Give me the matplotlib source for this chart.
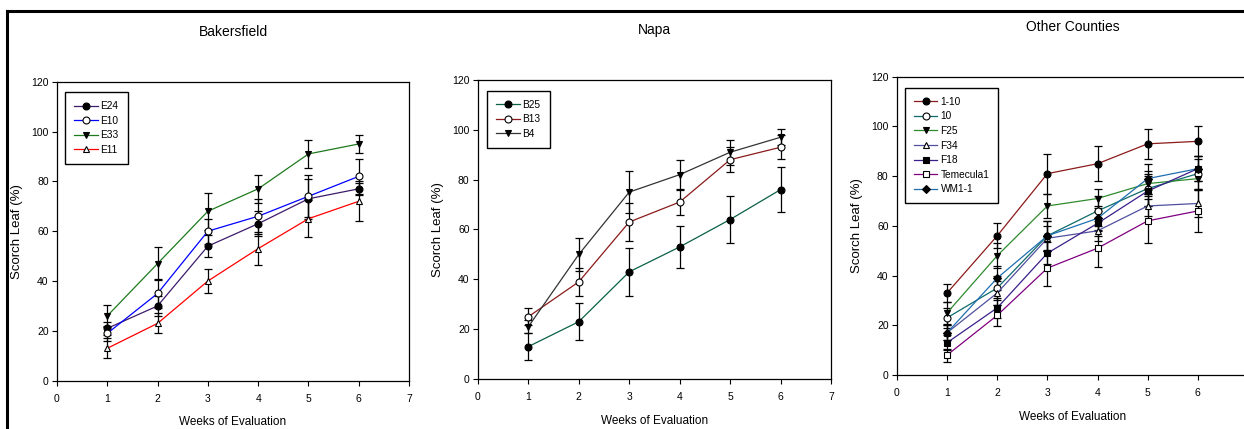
import matplotlib

matplotlib.use("Agg")
import matplotlib.pyplot as plt
from matplotlib.lines import Line2D

plt.rcParams["font.family"] = ["Liberation Sans", "DejaVu Sans"]

weeks = [1, 2, 3, 4, 5, 6]

# Bakersfield
e24 = [21, 30, 54, 63, 73, 77]
e24_err = [2.5, 4, 4.5, 5, 8, 2.5]
e10 = [19, 35, 60, 66, 74, 82]
e10_err = [3, 6, 5, 7, 8.5, 7]
e33 = [26, 47, 68, 77, 91, 95]
e33_err = [4.5, 6.5, 7.5, 5.5, 5.5, 3.5]
e11 = [13, 23, 40, 53, 65, 72]
e11_err = [4, 4, 5, 6.5, 7.5, 8]

# Napa
b25 = [13, 23, 43, 53, 64, 76]
b25_err = [5.5, 7.5, 9.5, 8.5, 9.3, 9]
b13 = [25, 39, 63, 71, 88, 93]
b13_err = [3.3, 5.5, 7.5, 5.2, 5, 4.8]
b4 = [21, 50, 75, 82, 91, 97]
b4_err = [2.5, 6.5, 8.5, 6, 5, 3.3]

# Other Counties
c110 = [33, 56, 81, 85, 93, 94]
c110_err = [3.7, 5, 8, 7, 6, 6]
c10 = [23, 35, 56, 66, 75, 81]
c10_err = [4, 5, 6, 6, 7, 6]
f25 = [25, 48, 68, 71, 77, 79]
f25_err = [4.5, 5, 5, 4, 4, 4]
f34 = [17, 33, 55, 58, 68, 69]
f34_err = [3, 5, 5, 4, 4, 5.5]
f18 = [13, 27, 49, 61, 74, 83]
f18_err = [3, 4, 4.5, 5, 6, 5]
temecula1 = [8, 24, 43, 51, 62, 66]
temecula1_err = [2.6, 4.3, 7.4, 7.4, 9, 8.6]
wm11 = [17, 39, 56, 63, 79, 83]
wm11_err = [3, 5, 6, 5, 6, 5]

panels = [
    ("Bakersfield", [0.0458, 0.1126, 0.283, 0.697], (0.023, 0.9655), 8, [
        ("E24", e24, e24_err, "o", "black", "#3d1c6b"),
        ("E10", e10, e10_err, "o", "white", "#0000ff"),
        ("E33", e33, e33_err, "v", "black", "#1e7a1e"),
        ("E11", e11, e11_err, "^", "white", "#ff0000"),
    ]),
    ("Napa", [0.3842, 0.1166, 0.2838, 0.697], (0.026, 0.964), 8, [
        ("B25", b25, b25_err, "o", "black", "#0b6048"),
        ("B13", b13, b13_err, "o", "white", "#8b1a1a"),
        ("B4", b4, b4_err, "v", "black", "#333333"),
    ]),
    ("Other Counties", [0.721, 0.1259, 0.2822, 0.6953], (0.023, 0.963), 7, [
        ("1-10", c110, c110_err, "o", "black", "#8b1a1a"),
        ("10", c10, c10_err, "o", "white", "#0f6b6b"),
        ("F25", f25, f25_err, "v", "black", "#2e8b2e"),
        ("F34", f34, f34_err, "^", "white", "#5050a0"),
        ("F18", f18, f18_err, "s", "black", "#3b1f8a"),
        ("Temecula1", temecula1, temecula1_err, "s", "white", "#800080"),
        ("WM1-1", wm11, wm11_err, "D", "black", "#1f6fb0"),
    ]),
]

fig = plt.figure(figsize=(12.44, 4.29), dpi=100)
fig.patch.set_facecolor("white")

for titre, pos, leg_pos, nticks, series in panels:
    ax = fig.add_axes(pos)
    for nom, vals, err, mk, face, coul in series:
        ax.errorbar(weeks, vals, yerr=err, fmt="none", ecolor="black",
                    elinewidth=0.9, capsize=3, capthick=0.9, zorder=2)
        ms = 4.2 if mk == "D" else 5
        ax.plot(weeks, vals, color=coul, lw=0.9, marker=mk, ms=ms,
                mfc=face, mec="black", mew=0.8, label=nom, zorder=3)
    ax.set_xlim(0, 7)
    ax.set_ylim(0, 120)
    ax.set_xticks(range(nticks))
    ax.set_yticks(range(0, 121, 20))
    ax.tick_params(labelsize=7.5, length=3.5, width=0.8, direction="out")
    ax.tick_params(axis="x", pad=6)
    ax.tick_params(axis="y", pad=2.5)
    for s in ax.spines.values():
        s.set_linewidth(0.9)
    ax.set_title(titre, fontsize=10, pad=33)
    ax.set_xlabel("Weeks of Evaluation", fontsize=8.5, labelpad=9)
    ax.set_ylabel("Scorch Leaf (%)", fontsize=9.5, labelpad=6)
    leg = ax.legend(loc="upper left", bbox_to_anchor=leg_pos, borderaxespad=0,
                    fontsize=7.3, fancybox=False, edgecolor="black",
                    handlelength=2.3, labelspacing=0.45, handletextpad=0.3,
                    borderpad=0.9, framealpha=1)
    leg.get_frame().set_linewidth(1.0)

# cadre de la page
fig.add_artist(Line2D([0.0056, 1.0], [0.975, 0.975], color="black", lw=2.2,
                      transform=fig.transFigure))
fig.add_artist(Line2D([0.0056, 0.0056], [0.0, 0.975], color="black", lw=2.2,
                      transform=fig.transFigure))

fig.savefig("out.png", dpi=100, facecolor="white")
